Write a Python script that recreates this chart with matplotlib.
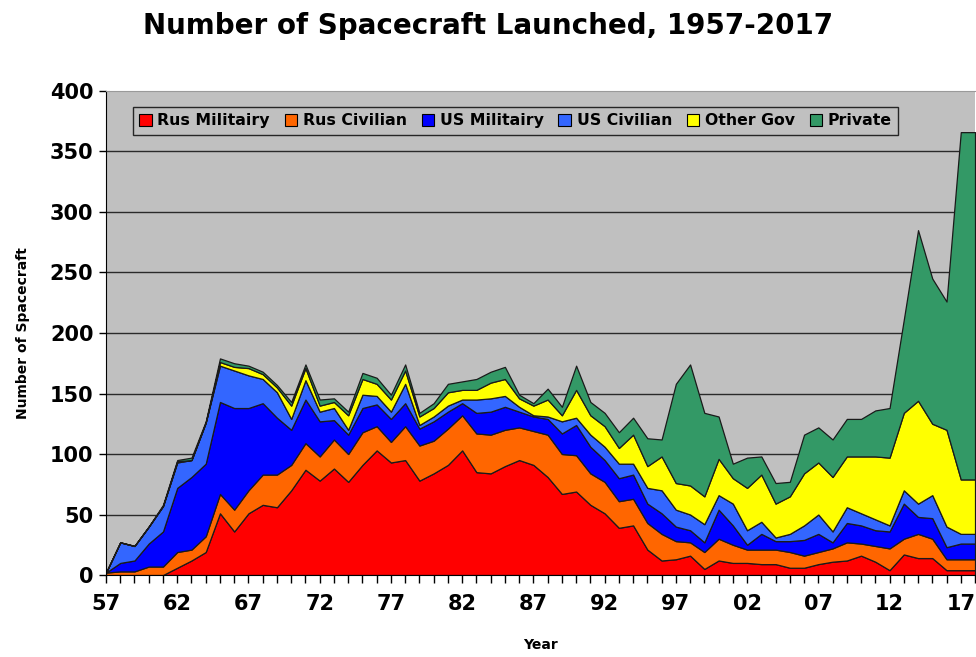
import numpy as np
import matplotlib.pyplot as plt
from matplotlib.patches import Patch

# launches per year, 1957-2017
years = np.arange(1957, 2018)

rus_mil = [0, 0, 0, 0, 0, 6, 12, 19, 51, 36,
           51, 58, 56, 70, 87, 78, 88, 77, 91, 103,
           93, 95, 78, 84, 91, 103, 85, 84, 90, 95,
           91, 81, 67, 69, 58, 51, 39, 41, 21, 12,
           13, 16, 5, 12, 10, 10, 9, 9, 6, 6,
           9, 11, 12, 16, 11, 4, 17, 14, 14, 4,
           4]
rus_civ = [2, 3, 3, 7, 7, 13, 9, 13, 16, 18,
           19, 25, 27, 21, 22, 20, 24, 23, 27, 20,
           17, 28, 29, 27, 30, 29, 32, 32, 30, 27,
           28, 35, 33, 30, 26, 26, 22, 22, 22, 22,
           15, 11, 14, 18, 15, 11, 12, 12, 13, 10,
           10, 11, 15, 10, 13, 18, 13, 20, 16, 9,
           9]
us_mil = [0, 7, 9, 19, 29, 53, 60, 60, 76, 84,
          68, 59, 47, 29, 36, 29, 16, 16, 20, 18,
          19, 19, 14, 16, 14, 10, 17, 19, 19, 13,
          12, 13, 17, 25, 22, 18, 19, 20, 16, 17,
          12, 10, 8, 24, 16, 4, 13, 7, 9, 13,
          15, 5, 16, 15, 13, 14, 29, 14, 17, 10,
          13]
us_civ = [0, 17, 12, 14, 21, 21, 14, 34, 30, 31,
          27, 20, 21, 9, 16, 8, 10, 4, 11, 7,
          6, 16, 3, 4, 5, 3, 11, 11, 9, 4,
          1, 2, 10, 6, 10, 11, 12, 9, 13, 19,
          14, 13, 15, 12, 18, 12, 10, 3, 6, 12,
          16, 9, 13, 10, 9, 5, 11, 11, 19, 17,
          8]
other_gov = [0, 0, 0, 0, 0, 1, 0, 0, 3, 3,
             6, 4, 4, 11, 10, 5, 5, 12, 13, 10,
             10, 11, 7, 7, 11, 8, 8, 13, 14, 7,
             8, 14, 5, 23, 16, 17, 13, 24, 18, 28,
             22, 24, 23, 30, 21, 35, 39, 28, 31, 43,
             43, 45, 42, 47, 52, 56, 64, 85, 59, 80,
             45]
private = [0, 0, 0, 0, 1, 1, 2, 1, 3, 3,
           2, 2, 2, 3, 3, 5, 3, 3, 5, 5,
           4, 5, 3, 4, 7, 7, 9, 9, 10, 3,
           2, 9, 7, 20, 11, 11, 13, 14, 23, 14,
           82, 100, 69, 35, 12, 25, 15, 17, 12, 32,
           29, 31, 31, 31, 38, 41, 77, 141, 120, 106,
           287]

labels = ['Rus Militairy', 'Rus Civilian', 'US Militairy', 'US Civilian', 'Other Gov', 'Private']
colors = ['#FF0000', '#FF6600', '#0000FF', '#3366FF', '#FFFF00', '#339966']
series = [rus_mil, rus_civ, us_mil, us_civ, other_gov, private]

# the original chart runs the last year flat to the right edge
x = np.append(years, years[-1] + 1)
ys = [np.append(s, s[-1]) for s in series]

fig = plt.figure(figsize=(9.76, 6.57), dpi=100)
ax = fig.add_axes([0.1086, 0.1248, 0.8904, 0.7367])
ax.set_facecolor('#C0C0C0')

ax.stackplot(x, *ys, colors=colors, edgecolor='#1a1a1a', linewidth=0.9, zorder=2)

ax.set_xlim(1957, 2018)
ax.set_ylim(0, 400)
ax.set_yticks(np.arange(0, 401, 50))
ax.set_xticks(np.arange(1957, 2019))
ax.set_xticklabels([f'{y % 100:02d}' if (y - 1957) % 5 == 0 else '' for y in range(1957, 2019)])

for yv in range(50, 400, 50):
    ax.axhline(yv, color='#2a2a2a', lw=1.0, zorder=1)

ax.spines['top'].set_color('#9a9a9a')
ax.spines['right'].set_visible(False)
ax.spines['left'].set_color('black')
ax.spines['bottom'].set_color('black')
ax.spines['bottom'].set_zorder(5)

ax.tick_params(axis='x', direction='out', length=6, width=1, pad=8, labelsize=15)
ax.tick_params(axis='y', direction='out', length=5, width=1, pad=4, labelsize=15)
for lab in ax.get_xticklabels() + ax.get_yticklabels():
    lab.set_fontweight('bold')

ax.set_xlabel('Year', fontsize=10, fontweight='bold', labelpad=17)
ax.set_ylabel('Number of Spacecraft', fontsize=10, fontweight='bold', labelpad=14)
fig.suptitle('Number of Spacecraft Launched, 1957-2017', fontsize=20, fontweight='bold', y=0.982)

handles = [Patch(facecolor=c, edgecolor='black', linewidth=0.8) for c in colors]
leg = ax.legend(handles, labels, ncol=6, loc='upper left', bbox_to_anchor=(0.031, 0.967),
                borderaxespad=0, frameon=True, fancybox=False, facecolor='#C0C0C0',
                edgecolor='black', prop={'weight': 'bold', 'size': 11.3},
                handlelength=0.8, handleheight=0.8, handletextpad=0.35,
                columnspacing=0.95, borderpad=0.4)
leg.get_frame().set_linewidth(1.0)
leg.set_zorder(6)

fig.savefig('out.png', dpi=100)
